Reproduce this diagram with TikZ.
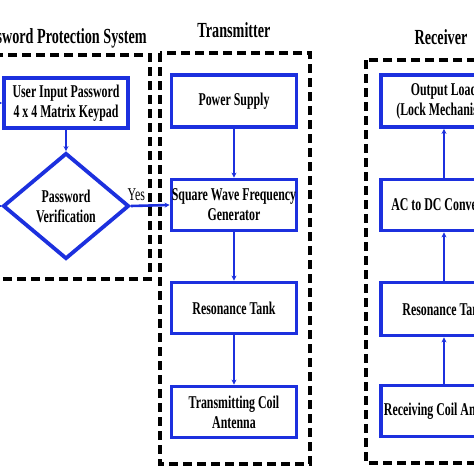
\documentclass[tikz,border=0pt]{standalone}
\usepackage{fontspec}
\setmainfont{Liberation Serif}[FakeStretch=0.66]
\usetikzlibrary{shapes.geometric,arrows.meta}
\definecolor{boxblue}{RGB}{28,48,222}
\begin{document}
\begin{tikzpicture}[x=1pt,y=-1pt]

    \tikzset{
      block/.style={
        draw=boxblue,
        line width=3.8pt,
        fill=white,
        align=center,
        inner sep=0pt,
        minimum width=125pt,
        minimum height=51pt,
        font=\fontsize{18}{20}\selectfont\bfseries,
      },
      decision/.style={
        draw=boxblue,
        line width=3.8pt,
        diamond,
        inner sep=0pt,
        minimum width=126pt,
        minimum height=106pt,
      },
      group/.style={
        draw=black,
        line width=3.2pt,
        dash pattern=on 9pt off 5pt,
      },
      link/.style={
        draw=boxblue,
        line width=2.6pt,
        -{Stealth[length=5pt,width=5pt]},
      },
      title/.style={
        font=\fontsize{21.5}{24}\selectfont\bfseries,
      },
    }
    \useasboundingbox (0,0) rectangle (474,474);
    \clip (0,0) rectangle (474,474);

	% dashed groups
	\draw[group] (-25,55) rectangle (150,279);
	\draw[group] (160,53) rectangle (310,464);
	\draw[group] (366,60) rectangle (522,463);
	\node[title] (ttlpass) at (61,38) {Password Protection System};
	\node[title] (ttltx) at (234,30) {Transmitter};
	\node[title] (ttlrx) at (441,37) {Receiver};

	% password protection
	\node[block, minimum width=124pt, minimum height=50pt] (userin) at (66,103) {User Input Password\\4 x 4 Matrix Keypad};
	\node[decision] (verify) at (66,206) {};
	\node[block, draw=none, fill=none] (verifytxt) at (verify.center) {Password\\Verification};

	% transmitter
	\node[block, minimum height=52pt] (power) at (234,101) {Power Supply};
	\node[block] (sqwave) at (234,205) {Square Wave Frequency\\Generator};
	\node[block] (restx) at (234,308) {Resonance Tank};
	\node[block] (txcoil) at (234,412) {Transmitting Coil\\Antenna};

	% receiver
	\node[block, minimum width=126pt, minimum height=52pt] (load) at (444,101) {Output Load\\(Lock Mechanism)};
	\node[block, minimum width=126pt] (acdc) at (444,205) {AC to DC Converter};
	\node[block, minimum width=126pt, minimum height=53pt] (resrx) at (444,309) {Resonance Tank};
	\node[block, minimum width=126pt] (rxcoil) at (444,411) {Receiving Coil Antenna};

	% links
	\draw[link] (userin) -- (verify);
	\draw[link] (verify.east) -- node[pos=0.14, above=1pt, font=\fontsize{18}{20}\selectfont] (yes) {Yes} (sqwave.west);
	\draw[link] (verify.west) -- ++(-14,0) |- (userin.west);
	\draw[link] (power) -- (sqwave);
	\draw[link] (sqwave) -- (restx);
	\draw[link] (restx) -- (txcoil);
	\draw[link] (rxcoil) -- (resrx);
	\draw[link] (resrx) -- (acdc);
	\draw[link] (acdc) -- (load);

\end{tikzpicture}
\end{document}
